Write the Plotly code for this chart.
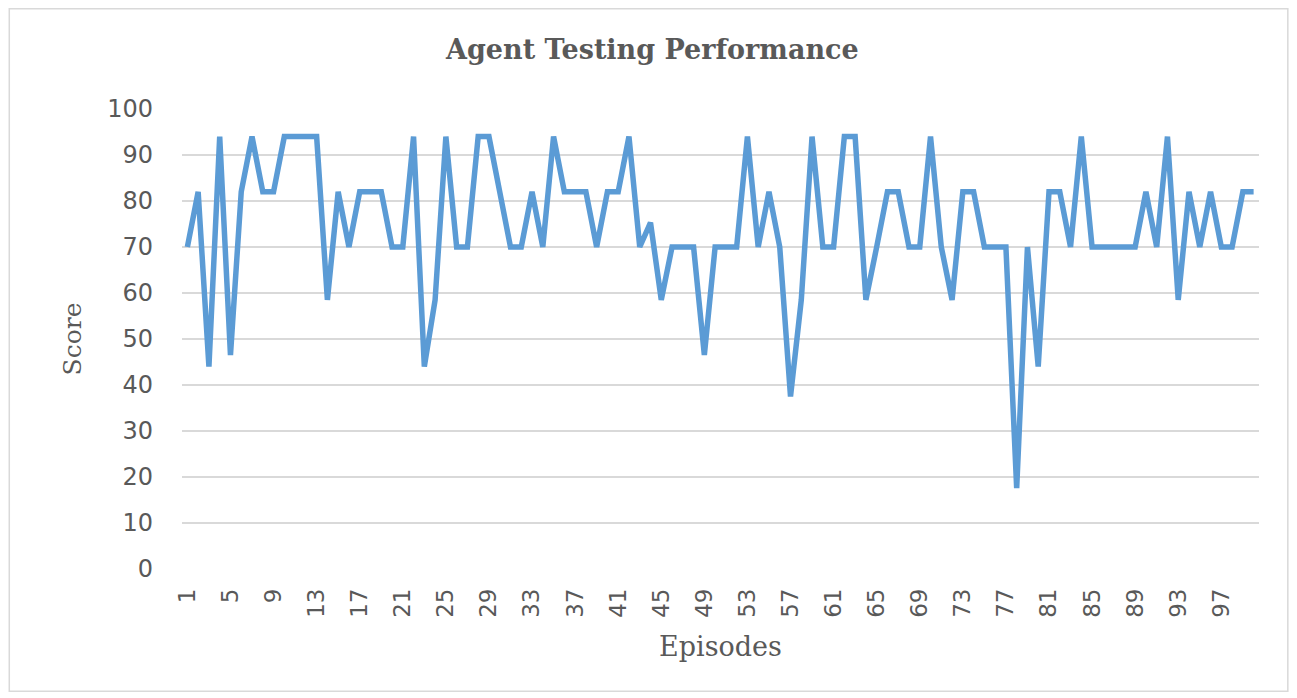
import plotly.graph_objects as go

episodes = list(range(1, 101))
scores = [
    70, 82, 44, 94, 46.5, 82, 94, 82, 82, 94,
    94, 94, 94, 58.5, 82, 70, 82, 82, 82, 70,
    70, 94, 44, 58.5, 94, 70, 70, 94, 94, 82,
    70, 70, 82, 70, 94, 82, 82, 82, 70, 82,
    82, 94, 70, 75.3, 58.5, 70, 70, 70, 46.5, 70,
    70, 70, 94, 70, 82, 70, 37.5, 58.5, 94, 70,
    70, 94, 94, 58.5, 70, 82, 82, 70, 70, 94,
    70, 58.5, 82, 82, 70, 70, 70, 17.6, 70, 44,
    82, 82, 70, 94, 70, 70, 70, 70, 70, 82,
    70, 94, 58.5, 82, 70, 82, 70, 70, 82, 82,
]
x_tick_vals = list(range(1, 101, 4))
y_tick_vals = list(range(0, 101, 10))

title_text = "Agent Testing Performance"
x_title = "Episodes"
y_title = "Score"

fig = go.Figure()
fig.add_trace(go.Scatter(
    x=episodes, y=scores, mode="lines",
    line=dict(color="#5b9bd5", width=5.5),
    showlegend=False, hoverinfo="x+y",
))

# page body has an 8px margin; figure is sized to fit inside the window
W, H = 1281, 684
L, R, T, B = 173.6, 29.6, 101, 123
pw = W - L - R
ph = H - T - B

fig.update_layout(
    width=W, height=H,
    margin=dict(l=L, r=R, t=T, b=B),
    paper_bgcolor="white", plot_bgcolor="white",
    title=dict(text="<b>" + title_text + "</b>", x=0.503, xref="container",
               y=1 - 42 / H, yref="container", yanchor="middle", xanchor="center",
               font=dict(family="DejaVu Serif", size=27, color="#595959")),
    xaxis=dict(
        range=[0.5, 100.5], tickmode="array", tickvals=x_tick_vals,
        ticktext=[str(v) for v in x_tick_vals], tickangle=-90,
        showgrid=False, zeroline=False, showline=False, ticks="",
        ticklabelstandoff=14,
        tickfont=dict(family="DejaVu Sans", size=23, color="#595959"),
        title=dict(text=x_title, standoff=20,
                   font=dict(family="DejaVu Serif", size=27, color="#595959")),
    ),
    yaxis=dict(
        range=[0, 100], tickmode="array", tickvals=y_tick_vals,
        showgrid=True, gridcolor="#d9d9d9", gridwidth=1.5,
        zeroline=False, showline=False, ticks="",
        ticklabelstandoff=28,
        tickfont=dict(family="DejaVu Sans", size=24, color="#595959"),
        title=dict(text=y_title, standoff=18,
                   font=dict(family="DejaVu Serif", size=25, color="#595959")),
    ),
    shapes=[dict(
        type="rect", xref="paper", yref="paper",
        x0=(0.75 - L) / pw, x1=(W - 0.75 - L) / pw,
        y0=(H - B - (H - 0.75)) / ph, y1=(H - B - 0.75) / ph,
        line=dict(color="#d9d9d9", width=1.5), fillcolor="rgba(0,0,0,0)", layer="below",
    )],
)

fig.write_html("out.html")
